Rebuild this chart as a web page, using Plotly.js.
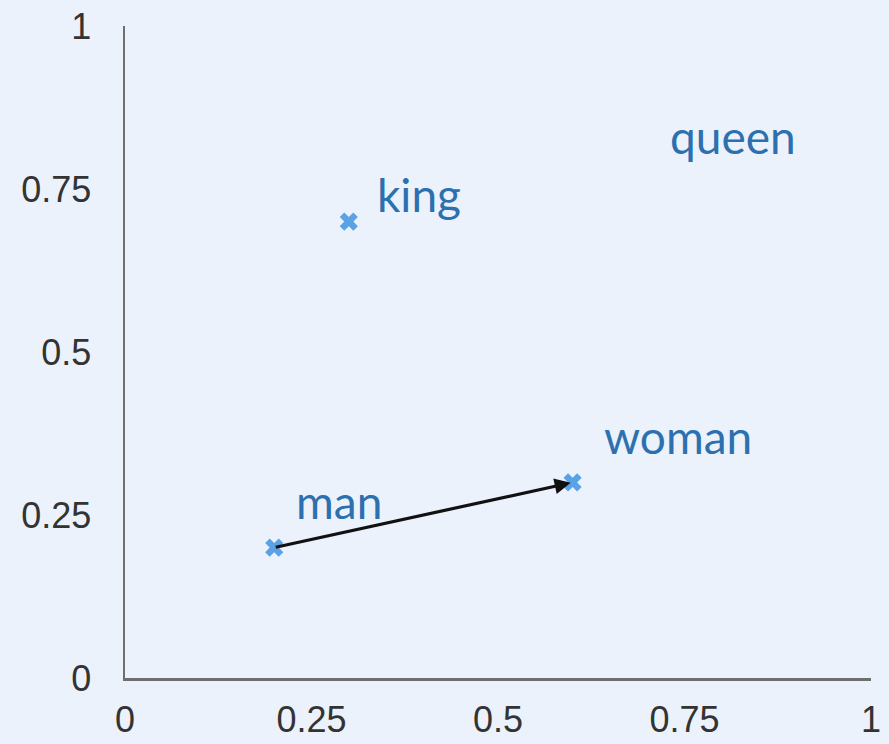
<!DOCTYPE html>
<html>
<head>
<meta charset="utf-8">
<script src="https://cdn.plot.ly/plotly-3.0.1.min.js"></script>
<style>html,body{margin:0;padding:0;background:#ebf2fb;}</style>
</head>
<body>
<div id="chart" style="width:889px;height:744px;"></div>
<script>
// Word-vector points (markers)
const pointWords = ["king", "man", "woman"];
const pointX = [0.3, 0.2, 0.6];
const pointY = [0.7, 0.2, 0.3];

// Word labels (queen has a label only)
const labelWords = ["king", "man", "woman", "queen"];
const labelX = [0.394, 0.287, 0.741, 0.815];
const labelY = [0.742, 0.270, 0.371, 0.830];

// Arrow: man -> woman
const arrowFrom = {x: 0.2, y: 0.2};
const arrowTo = {x: 0.6, y: 0.3};

const tickVals = [0, 0.25, 0.5, 0.75, 1];
const tickText = ["0", "0.25", "0.5", "0.75", "1"];

const markerTrace = {
  type: "scatter", mode: "markers",
  x: pointX, y: pointY, text: pointWords,
  marker: {symbol: "x", size: 16, color: "#5aa2e6", line: {width: 0}},
  hoverinfo: "text", showlegend: false, cliponaxis: false
};

const annotations = labelWords.map((w, i) => ({
  x: labelX[i], y: labelY[i], xref: "x", yref: "y",
  text: w, showarrow: false,
  font: {family: "Lato, 'Open Sans', sans-serif", size: 46, color: "#2d70b0"}
}));
annotations.push({
  x: arrowTo.x, y: arrowTo.y, ax: arrowFrom.x, ay: arrowFrom.y,
  xref: "x", yref: "y", axref: "x", ayref: "y",
  text: "", showarrow: true, arrowhead: 2, arrowsize: 1, arrowwidth: 3.2,
  arrowcolor: "#111111", standoff: 2, startstandoff: 0
});

const axisCommon = {
  range: [0, 1], tickvals: tickVals, ticktext: tickText,
  showgrid: false, zeroline: false, showline: true,
  linecolor: "#6e6e6e", linewidth: 2.5,
  ticks: "outside", tickcolor: "rgba(0,0,0,0)",
  tickfont: {family: "'Liberation Sans', Arial, sans-serif", size: 36, color: "#333333"},
  fixedrange: true
};

const layout = {
  width: 889, height: 744,
  margin: {l: 125, r: 18, t: 26, b: 66},
  paper_bgcolor: "#ebf2fb", plot_bgcolor: "#ebf2fb",
  xaxis: Object.assign({}, axisCommon, {ticklen: 8}),
  yaxis: Object.assign({}, axisCommon, {ticklen: 24}),
  annotations: annotations,
  showlegend: false
};

Plotly.newPlot("chart", [markerTrace], layout, {displayModeBar: false, staticPlot: true});
</script>
</body>
</html>
